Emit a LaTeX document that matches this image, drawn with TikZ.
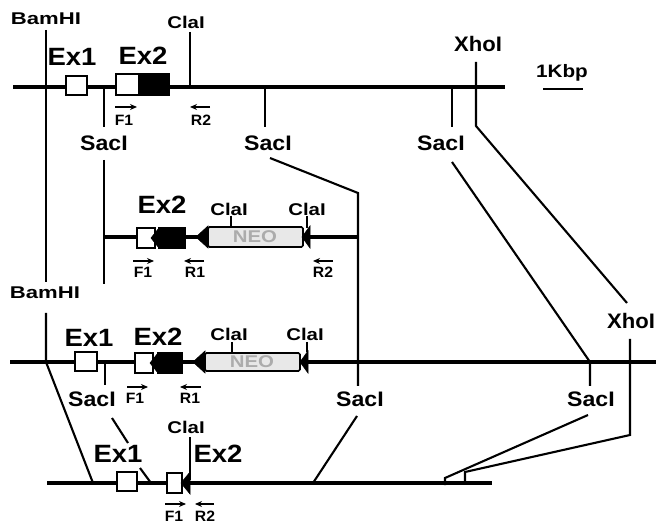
\documentclass[tikz,border=0pt]{standalone}
\usepackage{fontspec}
\setmainfont{Liberation Sans}
\usetikzlibrary{arrows.meta}
\newcommand\sx[2]{\scalebox{#1}[1]{#2}}
\tikzset{
  dna/.style={line width=3.1pt},
  site/.style={line width=2.1pt},
  scalebar/.style={line width=1.6pt},
  bamlbl/.style={font=\bfseries\fontsize{17}{17}\selectfont, inner sep=0pt},
  clalbl/.style={font=\bfseries\fontsize{17}{17}\selectfont, inner sep=0pt},
  enzlbl/.style={font=\bfseries\fontsize{21}{21}\selectfont, inner sep=0pt},
  exlbl/.style={font=\bfseries\fontsize{25}{25}\selectfont, inner sep=0pt},
  prmlbl/.style={font=\bfseries\fontsize{15}{15}\selectfont, inner sep=0pt},
  neolbl/.style={font=\bfseries\fontsize{17}{17}\selectfont, inner sep=0pt, text=gray!65},
  parr/.style={line width=1.5pt, -{Stealth[length=7pt,width=6pt]}},
  wbox/.style={draw, line width=1.6pt, fill=white},
  bbox/.style={draw, line width=1.6pt, fill=black},
  neobox/.style={draw, line width=1.6pt, fill=gray!18, rounded corners=1.5pt},
  tri/.style={fill=black, draw=black, line width=0.6pt},
}
\begin{document}
\begin{tikzpicture}[x=1pt,y=-1pt]
\useasboundingbox (0,0) rectangle (656,526);

% ---------- coordinates ----------
\coordinate (A0) at (13,87);   \coordinate (A1) at (505,87);
\coordinate (B0) at (104,237); \coordinate (B1) at (358,237);
\coordinate (C0) at (10,362);  \coordinate (C1) at (656,362);
\coordinate (D0) at (47,483);  \coordinate (D1) at (492,483);

\coordinate (bamT) at (46,30);  \coordinate (bamB) at (46,282);
\coordinate (sa1a) at (104,87); \coordinate (sa1b) at (104,127);
\coordinate (sa1c) at (104,160); \coordinate (sa1d) at (104,284);
\coordinate (claT) at (190,32); \coordinate (claB) at (190,87);
\coordinate (sa2a) at (265,87); \coordinate (sa2b) at (265,127);
\coordinate (sa2c) at (270,158); \coordinate (sa2d) at (358,193); \coordinate (sa2e) at (358,386);
\coordinate (sa3a) at (452,87); \coordinate (sa3b) at (452,127);
\coordinate (sa3c) at (452,162); \coordinate (sa3d) at (590,362); \coordinate (sa3e) at (590,386);
\coordinate (xhoT) at (476,62); \coordinate (xhoB) at (476,126); \coordinate (xhoC) at (627,303);
\coordinate (xho2a) at (630,339); \coordinate (xho2b) at (630,435);
\coordinate (xho2c) at (465,472); \coordinate (xho2d) at (465,483);
\coordinate (kb0) at (543,89); \coordinate (kb1) at (583,89);

\coordinate (bam2a) at (46,313); \coordinate (bam2b) at (46,362); \coordinate (bam2c) at (93,483);
\coordinate (sc1a) at (105,362); \coordinate (sc1b) at (105,385);
\coordinate (sc1c) at (112,418); \coordinate (sc1d) at (128,443);
\coordinate (sc1e) at (140,468); \coordinate (sc1f) at (151,483);
\coordinate (sc2a) at (357,416); \coordinate (sc2b) at (313,483);
\coordinate (sc3a) at (588,415); \coordinate (sc3b) at (445,478); \coordinate (sc3c) at (445,485);
\coordinate (claDT) at (190,437); \coordinate (claDB) at (190,480);

% ---------- DNA lines ----------
\draw[dna] (A0) -- (A1);
\draw[dna] (B0) -- (B1);
\draw[dna] (C0) -- (C1);
\draw[dna] (D0) -- (D1);

% ---------- site lines / connectors ----------
\draw[site] (bamT) -- (bamB);
\draw[site] (sa1a) -- (sa1b);
\draw[site] (sa1c) -- (sa1d);
\draw[site] (claT) -- (claB);
\draw[site] (sa2a) -- (sa2b);
\draw[site] (sa2c) -- (sa2d) -- (sa2e);
\draw[site] (sa3a) -- (sa3b);
\draw[site] (sa3c) -- (sa3d) -- (sa3e);
\draw[site] (xhoT) -- (xhoB) -- (xhoC);
\draw[site] (xho2a) -- (xho2b) -- (xho2c) -- (xho2d);
\draw[scalebar] (kb0) -- (kb1);
\draw[site] (bam2a) -- (bam2b) -- (bam2c);
\draw[site] (sc1a) -- (sc1b);
\draw[site] (sc1c) -- (sc1d);
\draw[site] (sc1e) -- (sc1f);
\draw[site] (sc2a) -- (sc2b);
\draw[site] (sc3a) -- (sc3b) -- (sc3c);
\draw[site] (claDT) -- (claDB);

% ---------- line A boxes ----------
\draw[wbox] (66,76) rectangle (87,95);
\draw[wbox] (116,74) rectangle (139,95);
\draw[bbox] (139,74) rectangle (169,95);

% ---------- line B boxes ----------
\draw[wbox] (137,228) rectangle (155,248);
\draw[bbox] (159,228) rectangle (185,248);
\fill[tri] (151,238) -- (159,228) -- (159,248) -- cycle;
\draw[neobox] (208,227) rectangle (303,247);
\fill[tri] (196,237) -- (208,226) -- (208,248) -- cycle;
\fill[tri] (302,237) -- (310,226) -- (310,248) -- cycle;
\draw[site, line width=1.4pt] (231,216) -- (231,227);
\draw[site, line width=1.4pt] (307,216) -- (307,228);
\node[neolbl] (neoB) at (255,237) {\sx{1.2}{NEO}};

% ---------- line C boxes ----------
\draw[wbox] (75,352) rectangle (97,371);
\draw[wbox] (135,353) rectangle (153,373);
\draw[bbox] (158,353) rectangle (182,373);
\fill[tri] (150,363) -- (158,353) -- (158,373) -- cycle;
\draw[neobox] (205,353) rectangle (300,371);
\fill[tri] (193,362) -- (205,351) -- (205,373) -- cycle;
\fill[tri] (300,362) -- (308,351) -- (308,373) -- cycle;
\draw[site, line width=1.4pt] (232,342) -- (232,353);
\draw[site, line width=1.4pt] (307,342) -- (307,352);
\node[neolbl] (neoC) at (252,362) {\sx{1.2}{NEO}};

% ---------- line D boxes ----------
\draw[wbox] (117,472) rectangle (137,491);
\draw[wbox] (167,473) rectangle (182,493);
\fill[tri] (181,483) -- (190,472) -- (190,494) -- cycle;

% ---------- primers ----------
\coordinate (pA1s) at (115,107); \coordinate (pA1e) at (137,107);
\coordinate (pA2s) at (210,107); \coordinate (pA2e) at (190,107);
\draw[parr] (pA1s) -- (pA1e);
\draw[parr] (pA2s) -- (pA2e);
\node[prmlbl] (fA) at (124,120) {\sx{1.05}{F1}};
\node[prmlbl] (rA) at (201,120) {\sx{1.05}{R2}};

\coordinate (pB1s) at (133,261); \coordinate (pB1e) at (154,261);
\coordinate (pB2s) at (204,261); \coordinate (pB2e) at (184,261);
\coordinate (pB3s) at (333,261); \coordinate (pB3e) at (313,261);
\draw[parr] (pB1s) -- (pB1e);
\draw[parr] (pB2s) -- (pB2e);
\draw[parr] (pB3s) -- (pB3e);
\node[prmlbl] (fB) at (143,272) {\sx{1.05}{F1}};
\node[prmlbl] (r1B) at (195,272) {\sx{1.05}{R1}};
\node[prmlbl] (r2B) at (323,272) {\sx{1.05}{R2}};

\coordinate (pC1s) at (127,387); \coordinate (pC1e) at (148,387);
\coordinate (pC2s) at (201,387); \coordinate (pC2e) at (180,387);
\draw[parr] (pC1s) -- (pC1e);
\draw[parr] (pC2s) -- (pC2e);
\node[prmlbl] (fC) at (135,398) {\sx{1.05}{F1}};
\node[prmlbl] (rC) at (190,398) {\sx{1.05}{R1}};

\coordinate (pD1s) at (165,504); \coordinate (pD1e) at (186,504);
\coordinate (pD2s) at (214,504); \coordinate (pD2e) at (195,504);
\draw[parr] (pD1s) -- (pD1e);
\draw[parr] (pD2s) -- (pD2e);
\node[prmlbl] (fD) at (174,516) {\sx{1.05}{F1}};
\node[prmlbl] (rD) at (205,516) {\sx{1.05}{R2}};

% ---------- labels ----------
\node[bamlbl] (bam1) at (46,19) {\sx{1.3}{BamHI}};
\node[bamlbl] (bam2) at (45,293) {\sx{1.3}{BamHI}};
\node[clalbl] (claA) at (186,22) {\sx{1.2}{ClaI}};
\node[clalbl] (claB1) at (229,209) {\sx{1.2}{ClaI}};
\node[clalbl] (claB2) at (307,209) {\sx{1.2}{ClaI}};
\node[clalbl] (claC1) at (229,334) {\sx{1.2}{ClaI}};
\node[clalbl] (claC2) at (305,334) {\sx{1.2}{ClaI}};
\node[clalbl] (claD) at (186,427) {\sx{1.2}{ClaI}};
\node[enzlbl] (xho1) at (478,44) {\sx{1.05}{XhoI}};
\node[enzlbl] (xho2) at (631,321) {\sx{1.05}{XhoI}};
\node[enzlbl] (sacA1) at (104,143) {\sx{1.1}{SacI}};
\node[enzlbl] (sacA2) at (268,143) {\sx{1.1}{SacI}};
\node[enzlbl] (sacA3) at (441,143) {\sx{1.1}{SacI}};
\node[enzlbl] (sacC1) at (92,399) {\sx{1.1}{SacI}};
\node[enzlbl] (sacC2) at (360,399) {\sx{1.1}{SacI}};
\node[enzlbl] (sacC3) at (591,399) {\sx{1.1}{SacI}};
\node[enzlbl, font=\bfseries\fontsize{18}{18}\selectfont] (kb) at (562,73) {\sx{1.15}{1Kbp}};

\node[exlbl] (exA1) at (72,57) {\sx{1.1}{Ex1}};
\node[exlbl] (exA2) at (143,56) {\sx{1.1}{Ex2}};
\node[exlbl] (exB2) at (162,205) {\sx{1.1}{Ex2}};
\node[exlbl] (exC1) at (89,338) {\sx{1.1}{Ex1}};
\node[exlbl] (exC2) at (158,337) {\sx{1.1}{Ex2}};
\node[exlbl] (exD1) at (118,454) {\sx{1.1}{Ex1}};
\node[exlbl] (exD2) at (218,454) {\sx{1.1}{Ex2}};
\end{tikzpicture}
\end{document}
